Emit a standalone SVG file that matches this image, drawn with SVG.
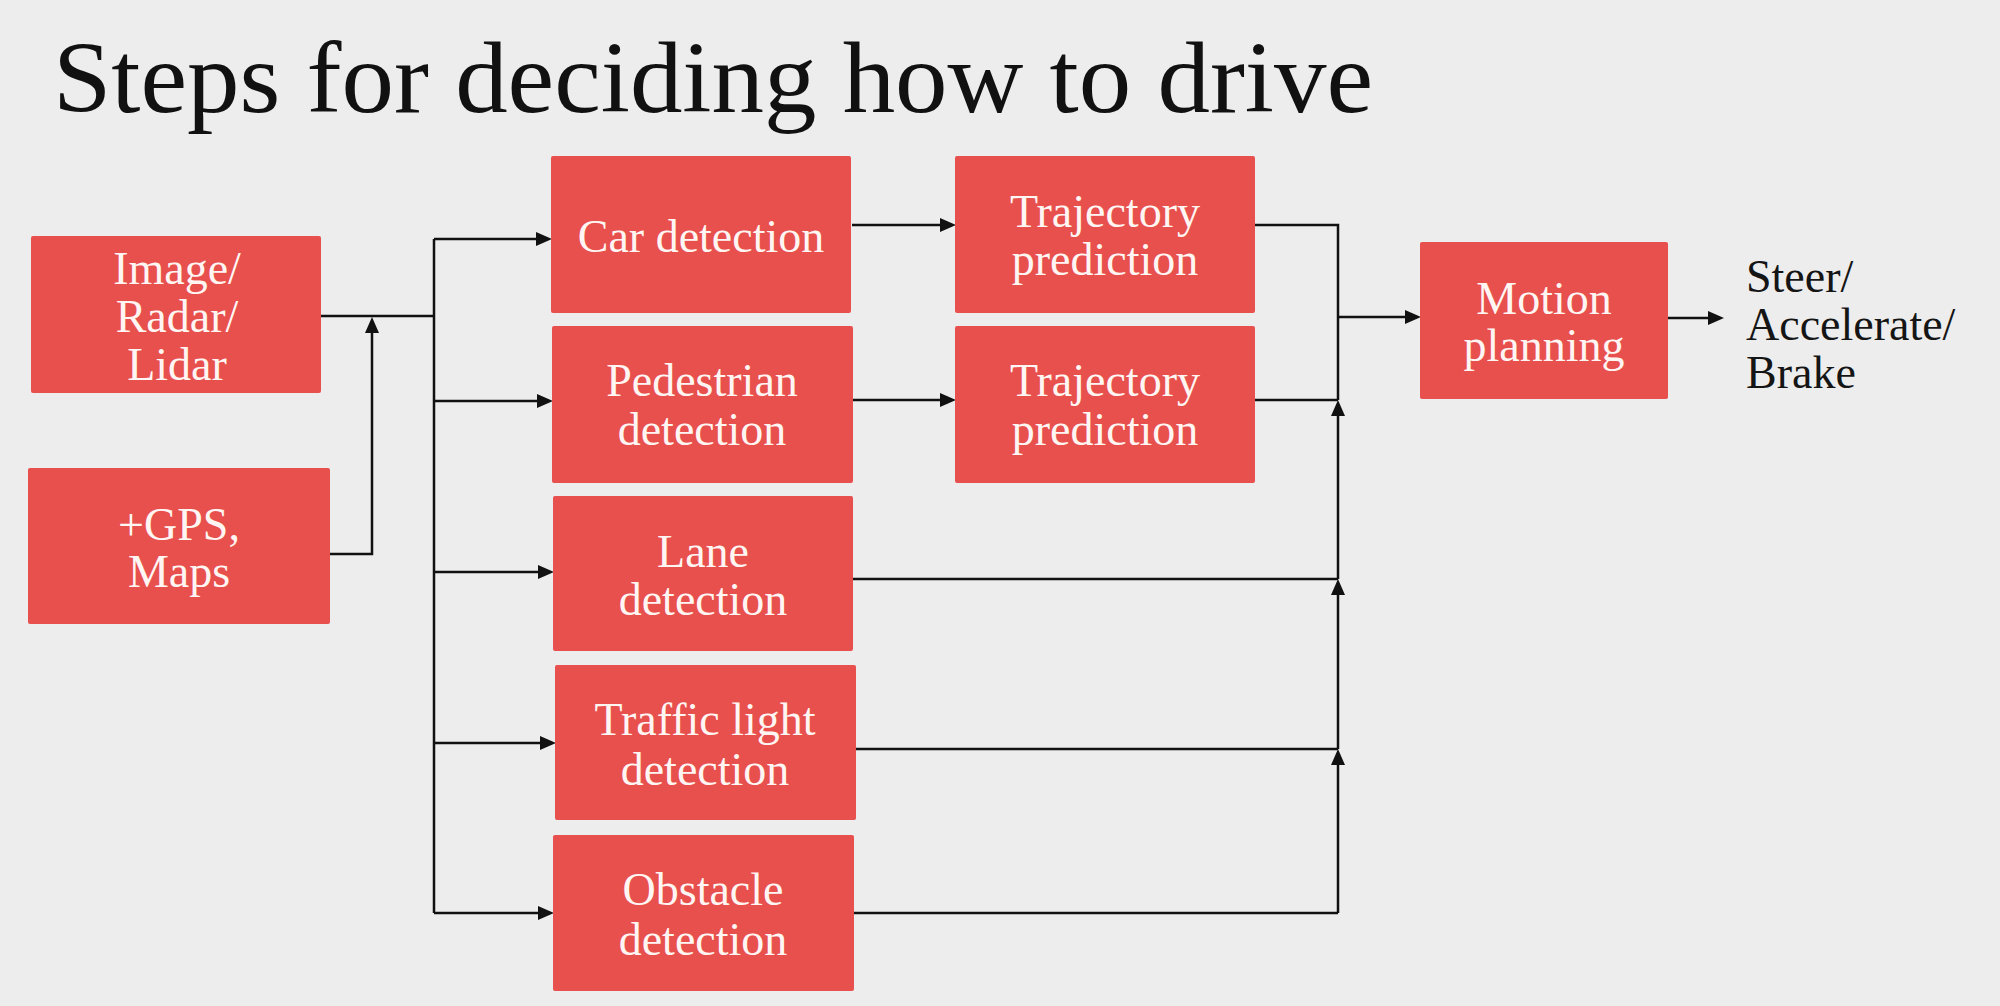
<svg xmlns="http://www.w3.org/2000/svg" width="2000" height="1006" viewBox="0 0 2000 1006">
<style>
.box{fill:#E8504E;}
.lbl{font-family:"Liberation Serif","Times New Roman",serif;font-size:46px;fill:#FFF6F4;text-anchor:middle;}
.out{font-family:"Liberation Serif","Times New Roman",serif;font-size:46px;fill:#151515;}
.title{font-family:"Liberation Serif","Times New Roman",serif;font-size:101px;fill:#111;}
.ln{fill:none;stroke:#111;stroke-width:2.5;}
.ar{fill:none;stroke:#111;stroke-width:2.5;marker-end:url(#ah);}
</style>
<defs>
<marker id="ah" markerUnits="userSpaceOnUse" markerWidth="17" markerHeight="15" refX="12" refY="7" orient="auto">
<path d="M0,0 L16,7 L0,14 z" fill="#111"/>
</marker>
</defs>
<rect x="0" y="0" width="2000" height="1006" fill="#EDEDED"/>
<text class="title" x="53" y="112" textLength="1320" lengthAdjust="spacingAndGlyphs">Steps for deciding how to drive</text>

<g id="connectors">
<path class="ln" d="M320,316 H434"/>
<path class="ar" d="M330,554 H372 V321"/>
<path class="ln" d="M434,239 V913"/>
<path class="ar" d="M434,239 H548"/>
<path class="ar" d="M434,401 H549"/>
<path class="ar" d="M434,572 H550"/>
<path class="ar" d="M434,743 H552"/>
<path class="ar" d="M434,913 H550"/>
<path class="ar" d="M852,225 H952"/>
<path class="ar" d="M853,400 H952"/>
<path class="ln" d="M1255,225 H1338 V400"/>
<path class="ln" d="M1255,400 H1338"/>
<path class="ar" d="M1338,317 H1417"/>
<path class="ar" d="M1668,318 H1720"/>
<path class="ln" d="M853,579 H1338"/>
<path class="ar" d="M1338,579 V404"/>
<path class="ln" d="M856,749 H1338"/>
<path class="ar" d="M1338,749 V583"/>
<path class="ln" d="M853,913 H1338"/>
<path class="ar" d="M1338,913 V753"/>
</g>

<g id="n-image">
<rect class="box" x="31" y="236" width="290" height="157" rx="2"/>
<text class="lbl" x="177" y="284">Image/</text>
<text class="lbl" x="177" y="332">Radar/</text>
<text class="lbl" x="177" y="380">Lidar</text>
</g>
<g id="n-gps">
<rect class="box" x="28" y="468" width="302" height="156" rx="2"/>
<text class="lbl" x="179" y="540">+GPS,</text>
<text class="lbl" x="179" y="587">Maps</text>
</g>
<g id="n-car">
<rect class="box" x="551" y="156" width="300" height="157" rx="2"/>
<text class="lbl" x="701" y="252">Car detection</text>
</g>
<g id="n-ped">
<rect class="box" x="552" y="326" width="301" height="157" rx="2"/>
<text class="lbl" x="702" y="396">Pedestrian</text>
<text class="lbl" x="702" y="445">detection</text>
</g>
<g id="n-lane">
<rect class="box" x="553" y="496" width="300" height="155" rx="2"/>
<text class="lbl" x="703" y="567">Lane</text>
<text class="lbl" x="703" y="615">detection</text>
</g>
<g id="n-traffic">
<rect class="box" x="555" y="665" width="301" height="155" rx="2"/>
<text class="lbl" x="705" y="735">Traffic light</text>
<text class="lbl" x="705" y="785">detection</text>
</g>
<g id="n-obstacle">
<rect class="box" x="553" y="835" width="301" height="156" rx="2"/>
<text class="lbl" x="703" y="905">Obstacle</text>
<text class="lbl" x="703" y="955">detection</text>
</g>
<g id="n-traj1">
<rect class="box" x="955" y="156" width="300" height="157" rx="2"/>
<text class="lbl" x="1105" y="227">Trajectory</text>
<text class="lbl" x="1105" y="275">prediction</text>
</g>
<g id="n-traj2">
<rect class="box" x="955" y="326" width="300" height="157" rx="2"/>
<text class="lbl" x="1105" y="396">Trajectory</text>
<text class="lbl" x="1105" y="445">prediction</text>
</g>
<g id="n-motion">
<rect class="box" x="1420" y="242" width="248" height="157" rx="2"/>
<text class="lbl" x="1544" y="314">Motion</text>
<text class="lbl" x="1544" y="361">planning</text>
</g>
<g id="n-output">
<text class="out" x="1746" y="292">Steer/</text>
<text class="out" x="1746" y="340">Accelerate/</text>
<text class="out" x="1746" y="388">Brake</text>
</g>
</svg>
